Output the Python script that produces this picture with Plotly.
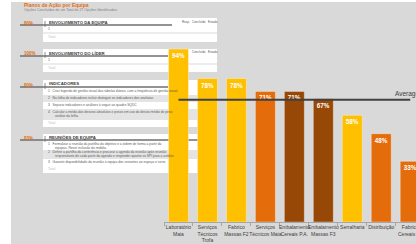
import plotly.graph_objects as go

# ---- data ----
categories = ["Laboratório<br>Maia", "Serviços<br>Técnicos<br>Trofa", "Fabrico<br>Massas F2",
              "Serviços<br>Técnicos Maia", "Embalamento<br>Cereais P.A.", "Embalamento<br>Massas F3",
              "Serralharia", "Distribuição", "Fabrico<br>Cereais F1"]
values = [94, 78, 78, 71, 71, 67, 58, 48, 33]
bar_colors = ["#FFC000", "#FFC000", "#FFC000", "#E46C0A", "#974806", "#974806",
              "#FFC000", "#E46C0A", "#E46C0A"]
average = sum(values) / len(values)

# form mock (background picture) texts
form_title = "Planos de Ação por Equipa"
form_subtitle = "Opções Concluídas de um Total de 27 Opções Identificadas"
section_names = ["ENVOLVIMENTO DA EQUIPA", "ENVOLVIMENTO DO LÍDER", "INDICADORES", "REUNIÕES DE EQUIPA"]
section_pcts = ["80%", "100%", "80%", "83%"]

W, H = 416, 244
ML, MT, MB = 164, 2, 22
PW, PH = W - ML, H - MT - MB


def px(x):
    return (x - ML) / PW


def py(y):
    return (H - MB - y) / PH


shapes = []
ann = []


def rect(x0, y0, x1, y1, color):
    shapes.append(dict(type="rect", xref="paper", yref="paper", x0=px(x0), x1=px(x1),
                       y0=py(y1), y1=py(y0), fillcolor=color, line=dict(width=0), layer="below"))


def hline(x0, x1, y, color="#6f6f6f", w=1.2):
    shapes.append(dict(type="line", xref="paper", yref="paper", x0=px(x0), x1=px(x1),
                       y0=py(y), y1=py(y), line=dict(color=color, width=w), layer="below"))


def txt(x, y, s, size=4, color="#595959", bold=False):
    if bold:
        s = "<b>" + s + "</b>"
    ann.append(dict(xref="paper", yref="paper", x=px(x), y=py(y), text=s, showarrow=False,
                    xanchor="left", yanchor="middle", font=dict(size=size, color=color,
                                                                family="Liberation Sans")))


# background grey
rect(11, 2, 420, 250, "#d9d9d9")

# title
txt(22, 5, form_title, 5, "#E46C0A", True)
txt(22, 10, form_subtitle, 3.5, "#7f7f7f")

# panels
panels = [(18, 42), (49, 72), (80, 127), (134, 173)]
for (a, b) in panels:
    rect(43, a, 217, b, "#ffffff")

# panel 1
hline(43, 217, 33, "#d9d9d9", 1)
txt(46, 29, "1", 3.5)
txt(46, 37, "Total", 3.5, "#bfbfbf")
# panel 2
hline(43, 217, 64, "#d9d9d9", 1)
txt(46, 60, "1", 3.5)
txt(46, 68, "Total", 3.5, "#bfbfbf")
# panel 3 rows
rect(43, 95, 217, 102, "#e4e4e4")
rect(43, 109, 217, 120, "#e4e4e4")
txt(46, 91, "1   Criar legenda de gestão visual das tabelas diárias, com a frequência de gestão visual", 3.3)
txt(46, 98, "2   Na folha de indicadores incluir distinguir os indicadores dos analistas", 3.3)
txt(46, 105, "3   Separar indicadores e análises à seguir ao quadro SQDC", 3.3)
txt(46, 112, "4   Calcular a média dos desvios absolutos e pesos em uso do desvio médio de peso", 3.3)
txt(53, 116, "análise da folha", 3.3)
txt(46, 123, "Total", 3.5, "#bfbfbf")
# panel 4 rows
rect(43, 150, 217, 159, "#e4e4e4")
txt(46, 144, "1   Formalizar a reunião da partilha do objetivo e a ordem de forma a partir da", 3.3)
txt(53, 148, "equipas. Rever inclusão da mobilia", 3.3)
txt(46, 152, "2   Definir a partilha da conferência e procurar a agenda da reunião após reunião", 3.3)
txt(53, 156, "responsáveis de cada parte da agenda e responder quanto os SPI para a análise", 3.3)
txt(46, 162, "3   Garantir disponibilidade da reunião à equipa dos restantes ao espaço e turno", 3.3)
txt(46, 169, "Total", 3.5, "#bfbfbf")

# header lines and labels
header_y = [25, 56, 87, 140]
header_end = [172, 168, 168, 198]
for hy, he, name, pct in zip(header_y, header_end, section_names, section_pcts):
    hline(20, he, hy, "#6f6f6f", 1.3)
    shapes.append(dict(type="line", xref="paper", yref="paper", x0=px(45), x1=px(45),
                       y0=py(hy + 2), y1=py(hy - 4), line=dict(color="#6f6f6f", width=0.8),
                       layer="below"))
    txt(47, hy - 3, name, 4.3, "#404040", True)
    txt(22, hy - 2, pct, 4.5, "#E46C0A", True)

# small column headers at top right of panels
for (hx, ht) in [(180, "Resp."), (190, "Concluído"), (206, "Estado")]:
    txt(hx, 22, ht, 3, "#595959")
for (hx, ht) in [(190, "Concluído"), (206, "Estado")]:
    txt(hx, 52, ht, 3, "#595959")

fig = go.Figure()
fig.add_trace(go.Bar(
    x=categories, y=values,
    marker=dict(color=bar_colors, line=dict(color="rgba(255,255,255,0.35)", width=1)),
    text=[f"{v}%" for v in values], textposition="inside", insidetextanchor="end",
    textfont=dict(color="white", size=6.3, family="Liberation Sans"),
    texttemplate="<b>%{text}</b>", cliponaxis=False, hoverinfo="skip",
))
fig.add_trace(go.Scatter(
    x=categories, y=[average] * len(categories), mode="lines",
    line=dict(color="#404040", width=2), hoverinfo="skip",
))
ann.append(dict(x=categories[-1], y=average, xref="x", yref="y", text=f"Average: {average:.0f}%",
                showarrow=False, xanchor="left", yanchor="bottom", xshift=-17, yshift=0,
                font=dict(size=6.5, color="#404040", family="Liberation Sans")))

fig.update_layout(
    width=W, height=H, margin=dict(l=ML, r=0, t=MT, b=MB, pad=0, autoexpand=False),
    paper_bgcolor="white", plot_bgcolor="rgba(0,0,0,0)",
    showlegend=False, bargap=0.31,
    shapes=shapes, annotations=ann,
    font=dict(family="Liberation Sans"),
)
fig.update_xaxes(range=[-0.5, 8.2], showgrid=False, showline=True, linecolor="#a6a6a6",
                 linewidth=1, ticks="outside", tickson="boundaries", ticklen=3,
                 tickcolor="#a6a6a6", tickfont=dict(size=5, color="#404040"),
                 tickangle=0, automargin=False, fixedrange=True)
fig.update_yaxes(range=[0, 119.6], visible=False, fixedrange=True, automargin=False)

fig.write_html("out.html", config={"displayModeBar": False},
               post_script="document.body.style.margin='0';document.body.style.overflow='hidden';")
